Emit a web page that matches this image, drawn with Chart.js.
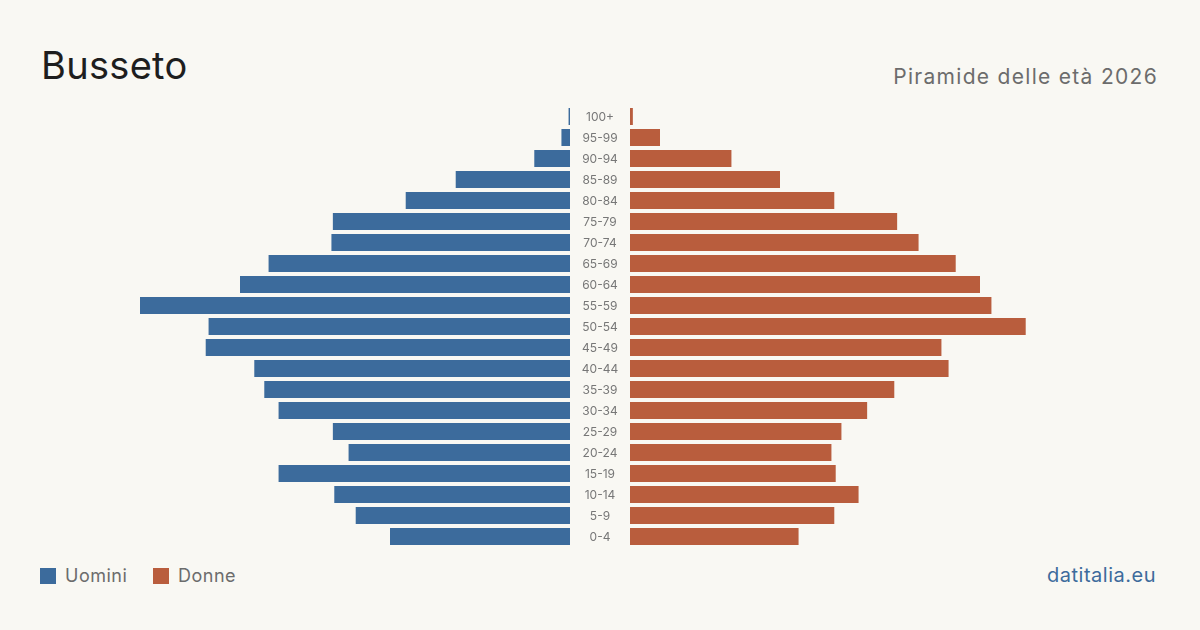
<!DOCTYPE html>
<html>
<head>
<meta charset="utf-8">
<script src="https://cdn.jsdelivr.net/npm/chart.js@4"></script>
<style>
  html, body { margin: 0; padding: 0; }
  body { width: 1200px; height: 630px; background: #f9f8f3; position: relative; overflow: hidden; font-family: Inter, "Noto Sans", sans-serif; }
  .abs { position: absolute; line-height: 1; white-space: nowrap; }
  #title { left: 41px; top: 46px; font-size: 38px; color: #1e1e1e; letter-spacing: 0.3px; }
  #subtitle { right: 42px; top: 66px; font-size: 21px; color: #6c6c6c; letter-spacing: 1.3px; }
  .sw { position: absolute; width: 16px; height: 16px; top: 568px; }
  .leg { top: 567px; font-size: 18px; color: #6c6c6c; letter-spacing: 0.5px; }
  #brand { right: 44px; top: 565px; font-size: 20px; color: #3d6b9c; letter-spacing: 0.5px; }
  #boxL { position: absolute; left: 140px; top: 106px; width: 490px; height: 441px; }
  #boxR { position: absolute; left: 630px; top: 106px; width: 430px; height: 441px; }
</style>
</head>
<body>
<div id="title" class="abs">Busseto</div>
<div id="subtitle" class="abs">Piramide delle età 2026</div>

<div class="sw" style="left:40px;background:#3c6b9c"></div>
<div class="abs leg" style="left:65px">Uomini</div>
<div class="sw" style="left:153px;background:#b95d3d"></div>
<div class="abs leg" style="left:178px">Donne</div>
<div id="brand" class="abs">datitalia.eu</div>

<div id="boxL"><canvas id="menChart" width="490" height="441"></canvas></div>
<div id="boxR"><canvas id="womenChart" width="430" height="441"></canvas></div>

<script>
// age classes, youngest first
const ageGroups = ['0-4','5-9','10-14','15-19','20-24','25-29','30-34','35-39','40-44','45-49',
                   '50-54','55-59','60-64','65-69','70-74','75-79','80-84','85-89','90-94','95-99','100+'];
const men   = [126, 150, 165, 204, 155, 166, 204, 214, 221, 255, 253, 301, 231, 211, 167, 166, 115, 80, 25, 6, 1];
const women = [118, 143, 160, 144, 141, 148, 166, 185, 223, 218, 277, 253, 245, 228, 202, 187, 143, 105, 71, 21, 2];

const blue = '#3c6b9c';
const orange = '#b95d3d';
const maxVal = Math.max(...men, ...women);

// age labels in the gap between the two halves
const ageLabels = {
  id: 'ageLabels',
  afterDraw(chart) {
    const ctx = chart.ctx;
    const y = chart.scales.y;
    const x = chart.chartArea.right + 30;
    ctx.save();
    ctx.font = '12px Inter, "Noto Sans", sans-serif';
    ctx.fillStyle = '#777777';
    ctx.textAlign = 'center';
    ctx.textBaseline = 'middle';
    ageGroups.forEach((lab, i) => {
      ctx.fillText(lab, x, y.getPixelForValue(i) + 1);
    });
    ctx.restore();
  }
};

function makeChart(id, values, color, left) {
  return new Chart(document.getElementById(id), {
    type: 'bar',
    data: {
      labels: ageGroups,
      datasets: [{
        data: values,
        backgroundColor: color,
        borderWidth: 0,
        barPercentage: 1,
        categoryPercentage: 0.81
      }]
    },
    options: {
      indexAxis: 'y',
      responsive: false,
      animation: false,
      devicePixelRatio: 1,
      layout: { padding: { left: 0, right: left ? 60 : 0, top: 0, bottom: 0 } },
      plugins: { legend: { display: false }, tooltip: { enabled: false } },
      scales: {
        x: { display: false, min: 0, max: maxVal, reverse: left },
        y: { display: false, reverse: true }
      }
    },
    plugins: left ? [ageLabels] : []
  });
}

makeChart('menChart', men, blue, true);
makeChart('womenChart', women, orange, false);
</script>
</body>
</html>
